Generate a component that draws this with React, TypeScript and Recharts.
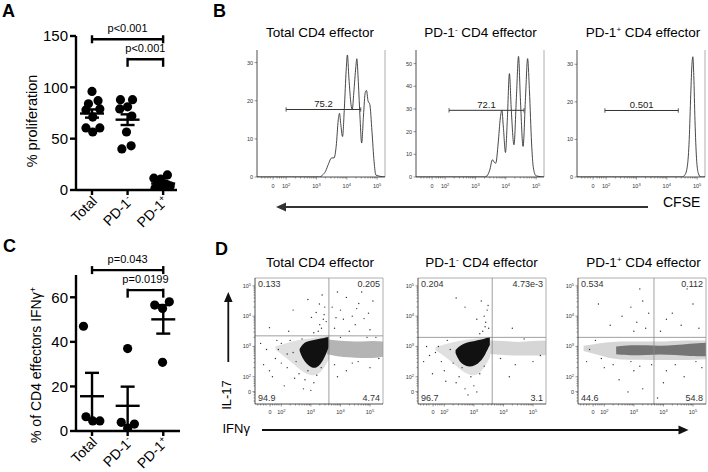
import React from 'react';
import {
  ComposedChart, ScatterChart, Scatter, Line, Area, XAxis, YAxis,
  ErrorBar, ReferenceLine, ReferenceArea, Label,
} from 'recharts';

const FONT = '"Liberation Sans", Arial, Helvetica, sans-serif';

// ---------------- Panel A: % proliferation ----------------
const groupNames = ['Total', 'PD-1', 'PD-1'];
const groupSups = ['', '-', '+'];

const prolifTotal = [96, 87, 84, 79, 78, 71, 60.5, 60.5, 56.5];
const prolifTotalJitter = [0, 0.17, -0.1, 0.22, -0.17, 0.02, -0.17, 0.22, 0.02];
const prolifPdNeg = [88, 88, 79, 81, 72, 56.5, 43, 40];
const prolifPdNegJitter = [-0.2, 0.14, -0.22, 0, 0.12, -0.03, 0.1, -0.16];
const prolifPdPos = [11.5, 14.7, 10.5, 5, 6, 4, 2, 1.5, 1];
const prolifPdPosJitter = [-0.26, 0.12, -0.07, -0.17, 0.06, 0.2, -0.06, -0.23, 0.14];
const prolifMean = [74.5, 68.5, 6.3];
const prolifSem = [4, 5.2, 1.6];
const prolifTicks = [0, 50, 100, 150];
const prolifBracketLevels = [146.8, 127.3];
const prolifPValues = ['p<0.001', 'p<0.001'];
const bracketPairs = [[1, 3], [2, 3]];

// ---------------- Panel C: % IFNg+ ----------------
const ifnTotal = [47, 6.4, 4.5, 4.5];
const ifnTotalJitter = [-0.24, -0.17, 0.02, 0.22];
const ifnPdNeg = [37, 3.9, 1.2, 3.1];
const ifnPdNegJitter = [0, -0.18, 0, 0.19];
const ifnPdPos = [56.5, 55, 58, 30.8];
const ifnPdPosJitter = [-0.24, -0.02, 0.17, -0.02];
const ifnMean = [15.6, 11.3, 50.1];
const ifnSem = [10.5, 8.6, 6.4];
const ifnTicks = [0, 20, 40, 60];
const ifnBracketLevels = [72.2, 63.2];
const ifnPValues = ['p=0.043', 'p=0.0199'];

// ---------------- Panel B: CFSE histograms (x in log-display units) ----------------
const cfseTotalX = [1.04, 3.1, 3.2, 3.3, 3.4, 3.5, 3.58, 3.65, 3.72, 3.76, 3.8, 3.86, 3.92, 3.98, 4.02, 4.07, 4.14, 4.18, 4.23, 4.3, 4.33, 4.38, 4.44, 4.49, 4.55, 4.61, 4.65, 4.7, 4.76, 4.83, 4.9, 4.96, 5.26];
const cfseTotalCount = [0, 0, 0.5, 1.5, 3.5, 5, 5, 8, 15, 16.7, 14, 10.6, 18, 28, 32, 26, 19, 17.6, 22, 29, 31, 25, 15, 8.9, 16, 22.2, 22.7, 20, 19, 12, 4, 0.5, 0];
const cfseNegX = [1.04, 3.3, 3.38, 3.47, 3.56, 3.62, 3.67, 3.75, 3.82, 3.87, 3.92, 3.99, 4.05, 4.12, 4.18, 4.27, 4.35, 4.42, 4.48, 4.57, 4.65, 4.72, 4.78, 4.85, 4.91, 5.0, 5.26];
const cfseNegCount = [0, 0, 0.5, 3, 7.6, 6.5, 6.1, 15, 26, 29.5, 22, 10.8, 25, 45.6, 30, 14.2, 35, 53.2, 35, 13.5, 35, 52.2, 38, 15, 4, 0.5, 0];
const cfsePosX = [1.04, 4.5, 4.6, 4.68, 4.74, 4.79, 4.83, 4.86, 4.89, 4.93, 4.98, 5.04, 5.12, 5.26];
const cfsePosCount = [0, 0, 0.6, 3, 10, 22, 30, 32, 27, 15, 5, 1, 0, 0];
const cfseGates = [[2.0, 4.46], [2.13, 4.6], [1.96, 4.38]];
const cfseGateLevels = [17.7, 29.4, 17.7];
const cfseGateLabels = ['75.2', '72.1', '0.501'];
const cfseYMax = [33.3, 56, 33.8];
const cfseYTicks = [[0, 10, 20, 30], [0, 10, 20, 30, 40, 50], [0, 10, 20, 30]];
const panelTitles = ['Total CD4 effector', 'PD-1', 'PD-1'];

// log-axis tick labels
const cfseMajor = [1.57, 2, 3, 4, 5];
const dotXMajor = [1.62, 2, 3, 4, 5];
const dotYMajor = [1.51, 2, 3, 4, 5];
const majorBase = ['0', '10', '10', '10', '10'];
const majorExp = ['', '2', '3', '4', '5'];
const linearMinor = [1.2, 1.3, 1.4, 1.48, 1.7, 1.78, 1.85, 1.92];
const decadeMinor = [2, 3, 4].flatMap((k) => [2, 3, 4, 5, 6, 7, 8, 9].map((m) => k + Math.log10(m)));

// ---------------- Panel D: IL-17 vs IFNg dot plots ----------------
const quadLabels = [
  ['0.133', '0.205', '94.9', '4.74'],
  ['0.204', '4.73e-3', '96.7', '3.1'],
  ['0.534', '0.112', '44.6', '54.8'],
];
const quadX = [3.61, 3.62, 3.68];
const quadY = [3.35, 3.3, 3.3];

// dense populations as ranges [low, high] at x
const blob1X = [2.62, 2.72, 2.86, 3.02, 3.18, 3.34, 3.48, 3.6];
const blob1Lo = [2.85, 2.6, 2.42, 2.3, 2.28, 2.42, 2.66, 2.98];
const blob1Hi = [2.92, 3.08, 3.16, 3.2, 3.23, 3.26, 3.29, 3.32];
const halo1X = [1.8, 2.2, 2.6, 3.0, 3.35, 3.62];
const halo1Lo = [2.9, 2.6, 2.25, 2.0, 2.1, 2.6];
const halo1Hi = [3.0, 3.12, 3.22, 3.27, 3.31, 3.35];
const band1X = [3.55, 3.9, 4.3, 4.7, 5.1, 5.44];
const band1Lo = [2.74, 2.68, 2.64, 2.62, 2.62, 2.66];
const band1Hi = [3.24, 3.2, 3.17, 3.16, 3.18, 3.16];

const blob2X = [2.38, 2.5, 2.66, 2.84, 3.03, 3.22, 3.38, 3.54];
const blob2Lo = [2.78, 2.52, 2.38, 2.32, 2.36, 2.5, 2.72, 3.05];
const blob2Hi = [2.88, 3.0, 3.1, 3.15, 3.18, 3.22, 3.26, 3.31];
const halo2X = [1.7, 2.1, 2.5, 2.9, 3.25, 3.55];
const halo2Lo = [2.88, 2.62, 2.25, 2.0, 2.1, 2.65];
const halo2Hi = [2.98, 3.1, 3.18, 3.24, 3.28, 3.32];
const band2X = [3.55, 4.0, 4.5, 5.0, 5.44];
const band2Lo = [2.75, 2.72, 2.7, 2.7, 2.72];
const band2Hi = [3.2, 3.18, 3.15, 3.18, 3.2];

const band3X = [1.3, 1.8, 2.3, 2.8, 3.3, 3.8, 4.3, 4.8, 5.44];
const band3Lo = [2.85, 2.72, 2.6, 2.56, 2.56, 2.55, 2.55, 2.55, 2.58];
const band3Hi = [3.02, 3.1, 3.15, 3.16, 3.16, 3.16, 3.18, 3.2, 3.2];
const core3X = [2.4, 2.9, 3.4, 3.9, 4.4, 4.9, 5.44];
const core3Lo = [2.74, 2.7, 2.72, 2.74, 2.72, 2.68, 2.68];
const core3Hi = [3.0, 3.05, 3.04, 3.02, 3.04, 3.1, 3.12];

// sparse events [x, y]
const events1 = [
  [3.25, 3.5], [3.3, 3.72], [3.42, 3.9], [3.18, 4.12], [3.47, 4.3], [3.36, 3.6], [3.1, 3.45], [3.52, 3.82], [2.4, 4.2], [2.9, 4.55], [3.38, 4.7], [3.02, 3.96], [1.6, 3.62], [2.25, 3.5], [3.45, 4.05], [3.29, 4.4],
  [3.8, 3.6], [4.0, 4.2], [4.2, 4.62], [4.4, 4.0], [4.62, 4.42], [4.5, 3.72], [3.9, 4.8], [4.8, 3.92], [5.1, 4.5], [4.3, 3.5], [3.72, 4.3], [5.0, 3.55], [4.1, 3.9], [4.72, 4.8], [4.55, 4.25], [4.95, 4.1], [3.85, 3.95],
  [1.5, 2.9], [1.8, 2.6], [2.0, 3.1], [2.2, 2.3], [2.4, 2.8], [1.7, 2.0], [2.6, 2.1], [2.1, 1.7], [2.8, 1.9], [1.4, 2.4], [2.3, 3.2], [1.9, 2.9], [2.5, 2.5], [3.1, 1.8], [2.9, 2.2], [1.3, 3.1], [2.7, 3.25], [3.2, 2.05], [1.6, 2.2], [2.0, 2.45], [2.45, 1.95], [3.35, 2.3], [2.2, 2.75], [1.85, 3.2], [2.75, 1.6], [3.0, 1.55],
  [3.8, 2.4], [4.2, 2.2], [4.6, 2.5], [5.0, 2.3], [4.0, 3.3], [4.9, 3.3], [5.3, 2.6], [3.9, 2.0], [4.4, 2.45], [5.2, 3.3],
];
const events2 = [
  [3.3, 3.5], [3.4, 3.8], [3.45, 4.2], [3.25, 4.5], [3.5, 3.6], [3.1, 3.9], [2.4, 4.6], [3.35, 4.0], [3.2, 3.42], [3.48, 4.35], [2.7, 4.3], [3.38, 3.65],
  [4.3, 3.6],
  [1.5, 2.7], [1.8, 3.0], [2.0, 2.2], [2.2, 2.9], [1.6, 2.1], [2.4, 1.8], [2.7, 1.6], [2.9, 2.0], [1.3, 2.5], [2.1, 3.2], [3.0, 1.7], [3.2, 2.1], [2.6, 2.3], [1.9, 2.5], [2.5, 2.0], [1.4, 3.0], [2.8, 1.4], [3.1, 1.5], [1.7, 2.8], [2.3, 2.45], [3.35, 2.35], [2.05, 1.85],
  [3.9, 2.6], [4.4, 2.4], [5.0, 2.5], [4.2, 2.0], [4.7, 3.25], [5.25, 2.7],
];
const events3 = [
  [2.9, 4.3], [3.1, 3.8], [3.3, 4.5], [3.4, 3.6], [2.6, 4.0], [3.5, 4.1], [2.2, 3.7], [3.2, 4.9], [1.8, 4.4], [3.0, 3.5],
  [4.3, 4.1], [4.6, 3.7], [5.0, 4.4], [3.9, 3.5], [4.8, 4.9], [4.1, 3.9], [5.2, 3.6],
  [2.0, 2.3], [2.5, 1.9], [3.0, 2.2], [3.3, 1.6], [3.6, 2.4], [4.1, 2.2], [4.7, 2.0], [5.1, 2.5], [1.5, 2.9], [1.9, 2.6], [3.8, 1.3], [2.8, 1.5], [1.4, 2.5], [2.3, 2.4], [3.2, 2.35], [4.4, 2.4], [5.3, 2.3], [1.7, 3.2], [2.9, 2.5], [4.0, 1.8],
];

// ---------------- helpers ----------------
const range = (xs: number[], lo: number[], hi: number[]) => xs.map((x, i) => ({ x, r: [lo[i], hi[i]] }));

const DotShape = (p: any) => <circle cx={p.cx} cy={p.cy} r={4.6} fill="#000" />;
const MeanShape = (p: any) => (
  <line x1={p.cx - 12} x2={p.cx + 12} y1={p.cy} y2={p.cy} stroke="#000" strokeWidth={2.4} />
);
const EventShape = (p: any) => <circle cx={p.cx} cy={p.cy} r={0.7} fill="#333" />;

const GroupTick = (p: any) => {
  const i = Math.round(p.payload.value) - 1;
  const ax = p.x + 6;
  const ay = p.y + 7;
  return (
    <text x={ax} y={ay} transform={`rotate(-45 ${ax} ${ay})`} textAnchor="end" fontSize={14} fill="#000">
      {groupNames[i]}
      {groupSups[i] ? <tspan dy={-5} fontSize={9}>{groupSups[i]}</tspan> : null}
    </text>
  );
};

const makeLogTickX = (majors: number[], labelDy: number) => (p: any) => {
  const idx = majors.indexOf(p.payload.value);
  const major = idx >= 0;
  return (
    <g>
      <line x1={p.x} x2={p.x} y1={p.y} y2={p.y + (major ? 2.5 : 1.5)} stroke="#333" strokeWidth={0.5} />
      {major ? (
        <text x={p.x} y={p.y + labelDy} textAnchor="middle" fontSize={5.5} fill="#333">
          {majorBase[idx]}
          {majorExp[idx] ? <tspan dy={-2} fontSize={4}>{majorExp[idx]}</tspan> : null}
        </text>
      ) : null}
    </g>
  );
};

const makeLogTickY = (majors: number[]) => (p: any) => {
  const idx = majors.indexOf(p.payload.value);
  const major = idx >= 0;
  return (
    <g>
      <line x1={p.x - (major ? 2.5 : 1.5)} x2={p.x} y1={p.y} y2={p.y} stroke="#333" strokeWidth={0.5} />
      {major ? (
        <text x={p.x - 4} y={p.y + 2} textAnchor="end" fontSize={5.5} fill="#333">
          {majorBase[idx]}
          {majorExp[idx] ? <tspan dy={-2} fontSize={4}>{majorExp[idx]}</tspan> : null}
        </text>
      ) : null}
    </g>
  );
};

const LinTickY = (p: any) => (
  <g>
    <line x1={p.x - 2.5} x2={p.x} y1={p.y} y2={p.y} stroke="#333" strokeWidth={0.5} />
    <text x={p.x - 4} y={p.y + 2} textAnchor="end" fontSize={5.5} fill="#333">{p.payload.value}</text>
  </g>
);

// ---------------- A / C dot plots ----------------
function DotPlot(props: any) {
  const { top, height, plotTop, plotBottom, plotRight, xMax, yMax, yTicks, groups, mean, sem, levels, pvals } = props;
  const plotLeft = 76;
  const yAxisW = 34;
  const ppu = (plotBottom - plotTop) / yMax;
  const pts = groups.flatMap((g: any, gi: number) => g.vals.map((v: number, i: number) => ({ x: gi + 1 + g.jit[i], y: v })));
  const means = mean.map((m: number, i: number) => ({ x: i + 1, y: m, e: sem[i] }));
  const axisStyle = { stroke: '#000', strokeWidth: 2.4 };
  return (
    <div style={{ position: 'absolute', left: 0, top }}>
      <ScatterChart width={200} height={height} margin={{ top: plotTop - top, right: 200 - plotRight, bottom: 0, left: plotLeft - yAxisW }}>
        <XAxis type="number" dataKey="x" domain={[0.55, xMax]} ticks={[1, 2, 3]} interval={0} allowDataOverflow
          height={top + height - plotBottom} axisLine={axisStyle} tickLine={axisStyle} tickSize={5} tickMargin={0} tick={GroupTick} />
        <YAxis type="number" dataKey="y" domain={[0, yMax]} ticks={yTicks} interval={0} allowDataOverflow width={yAxisW}
          axisLine={axisStyle} tickLine={axisStyle} tickSize={6} tickMargin={2} tick={{ fontSize: 15, fill: '#000' }} />
        <Scatter data={pts} shape={DotShape} isAnimationActive={false} />
        <Scatter data={means} shape={MeanShape} isAnimationActive={false}>
          <ErrorBar dataKey="e" direction="y" width={7} strokeWidth={2.4} stroke="#000" />
        </Scatter>
        {bracketPairs.map(([a, b], i) => {
          const lvl = levels[i];
          const up = (i === 0 ? 4 : 1.5) / ppu;
          const down = (i === 0 ? 4 : 7.5) / ppu;
          return (
            <React.Fragment key={'br' + i}>
              <ReferenceLine segment={[{ x: a, y: lvl }, { x: b, y: lvl }]} stroke="#000" strokeWidth={2.4} ifOverflow="visible"
                label={<Label value={pvals[i]} position="top" offset={7} fontSize={11} fill="#000" />} />
              <ReferenceLine segment={[{ x: a, y: lvl + up }, { x: a, y: lvl - down }]} stroke="#000" strokeWidth={2.4} ifOverflow="visible" />
              <ReferenceLine segment={[{ x: b, y: lvl + up }, { x: b, y: lvl - down }]} stroke="#000" strokeWidth={2.4} ifOverflow="visible" />
            </React.Fragment>
          );
        })}
      </ScatterChart>
    </div>
  );
}

// ---------------- B histograms ----------------
const cfseDomain = [1.04, 5.26];
const cfseTicks = [...linearMinor, ...decadeMinor, ...cfseMajor].sort((a, b) => a - b);
const cfseTickX = makeLogTickX(cfseMajor, 11);

function HistPanel(props: any) {
  const { plotLeft, xs, cs, yMax, yTicks, gate, gateLevel, gateLabel } = props;
  const plotTop = 50, plotH = 127, plotW = 128, yAxisW = 18, xAxisH = 14;
  const data = xs.map((x: number, i: number) => ({ x, c: cs[i] }));
  const cap = (2.2 * yMax) / plotH;
  const ax = { stroke: '#222', strokeWidth: 0.8 };
  return (
    <div style={{ position: 'absolute', left: plotLeft - yAxisW - 2, top: plotTop - 10 }}>
      <ComposedChart width={plotW + yAxisW + 6} height={10 + plotH + xAxisH} margin={{ top: 10, right: 4, bottom: 0, left: 2 }}>
        <XAxis type="number" dataKey="x" domain={cfseDomain} ticks={cfseTicks} interval={0} allowDataOverflow height={xAxisH}
          axisLine={ax} tickLine={false} tickSize={0} tickMargin={0} tick={cfseTickX} />
        <YAxis type="number" domain={[0, yMax]} ticks={yTicks} interval={0} allowDataOverflow width={yAxisW}
          axisLine={ax} tickLine={false} tickSize={0} tickMargin={0} tick={LinTickY} />
        <ReferenceLine x={cfseDomain[1]} stroke="#999" strokeWidth={0.8} />
        <Line data={data} dataKey="c" type="monotone" dot={false} stroke="#333" strokeWidth={0.9} isAnimationActive={false} />
        <ReferenceLine segment={[{ x: gate[0], y: gateLevel }, { x: gate[1], y: gateLevel }]} stroke="#333" strokeWidth={1}
          label={<Label value={gateLabel} position="top" offset={2.5} fontSize={9.5} fill="#222" />} />
        <ReferenceLine segment={[{ x: gate[0], y: gateLevel - cap }, { x: gate[0], y: gateLevel + cap }]} stroke="#333" strokeWidth={0.8} />
        <ReferenceLine segment={[{ x: gate[1], y: gateLevel - cap }, { x: gate[1], y: gateLevel + cap }]} stroke="#333" strokeWidth={0.8} />
      </ComposedChart>
    </div>
  );
}

// ---------------- D dot plots ----------------
const dotXDomain = [1.11, 5.44];
const dotYDomain = [1.1, 5.26];
const dotXTicks = [...linearMinor.filter((v) => v > 1.11), ...decadeMinor, ...dotXMajor].sort((a, b) => a - b);
const dotYTicks = [...linearMinor, ...decadeMinor, ...dotYMajor].sort((a, b) => a - b);
const dotTickX = makeLogTickX(dotXMajor, 10);
const dotTickY = makeLogTickY(dotYMajor);

function FlowPanel(props: any) {
  const { plotLeft, areas, events, labels, qx, qy } = props;
  const plotTop = 278, plotH = 126, plotW = 128, yAxisW = 18, xAxisH = 14;
  const pts = events.map((e: number[]) => ({ x: e[0], y: e[1] }));
  const ax = { stroke: '#222', strokeWidth: 0.8 };
  const [x0, x1] = dotXDomain;
  const [y0, y1] = dotYDomain;
  const qStyle = { fontSize: 9, fill: '#333' };
  return (
    <div style={{ position: 'absolute', left: plotLeft - yAxisW - 2, top: plotTop - 10 }}>
      <ComposedChart width={plotW + yAxisW + 4} height={10 + plotH + xAxisH} margin={{ top: 10, right: 2, bottom: 0, left: 2 }}>
        <XAxis type="number" dataKey="x" domain={dotXDomain} ticks={dotXTicks} interval={0} allowDataOverflow height={xAxisH}
          axisLine={ax} tickLine={false} tickSize={0} tickMargin={0} tick={dotTickX} />
        <YAxis type="number" domain={dotYDomain} ticks={dotYTicks} interval={0} allowDataOverflow width={yAxisW}
          axisLine={ax} tickLine={false} tickSize={0} tickMargin={0} tick={dotTickY} />
        {areas.map((a: any, i: number) => (
          <Area key={'a' + i} data={a.data} dataKey="r" type={a.curve} stroke="none" fill={a.fill} fillOpacity={a.opacity} isAnimationActive={false} />
        ))}
        <Scatter data={pts} dataKey="y" shape={EventShape} isAnimationActive={false} />
        <ReferenceLine x={x1} stroke="#999" strokeWidth={0.8} />
        <ReferenceLine y={y1} stroke="#999" strokeWidth={0.8} />
        <ReferenceLine x={qx} stroke="#888" strokeWidth={0.8} />
        <ReferenceLine y={qy} stroke="#888" strokeWidth={0.8} />
        <ReferenceArea x1={x0} x2={qx} y1={qy} y2={y1} fill="none" fillOpacity={0} label={{ value: labels[0], position: 'insideTopLeft', offset: 3, ...qStyle }} />
        <ReferenceArea x1={qx} x2={x1} y1={qy} y2={y1} fill="none" fillOpacity={0} label={{ value: labels[1], position: 'insideTopRight', offset: 3, ...qStyle }} />
        <ReferenceArea x1={x0} x2={qx} y1={y0} y2={qy} fill="none" fillOpacity={0} label={{ value: labels[2], position: 'insideBottomLeft', offset: 3, ...qStyle }} />
        <ReferenceArea x1={qx} x2={x1} y1={y0} y2={qy} fill="none" fillOpacity={0} label={{ value: labels[3], position: 'insideBottomRight', offset: 3, ...qStyle }} />
      </ComposedChart>
    </div>
  );
}

// ---------------- free text & arrows ----------------
function Overlay() {
  const sup = (s: string) => <tspan dy={-5} fontSize={8}>{s}</tspan>;
  return (
    <svg width={708} height={472} style={{ position: 'absolute', left: 0, top: 0, pointerEvents: 'none' }} fontFamily={FONT}>
      <text x={2} y={17} fontSize={18} fontWeight="bold">A</text>
      <text x={213} y={17} fontSize={18} fontWeight="bold">B</text>
      <text x={3} y={252} fontSize={18} fontWeight="bold">C</text>
      <text x={215} y={255} fontSize={18} fontWeight="bold">D</text>

      <text x={37} y={121} transform="rotate(-90 37 121)" textAnchor="middle" fontSize={14.5}>% proliferation</text>
      <text x={41} y={365} transform="rotate(-90 41 365)" textAnchor="middle" fontSize={14}>
        % of CD4 effectors IFNγ<tspan dy={-5} fontSize={9}>+</tspan>
      </text>

      <text x={320} y={36.5} textAnchor="middle" fontSize={13.5}>{panelTitles[0]}</text>
      <text x={480.5} y={36.5} textAnchor="middle" fontSize={13.5}>{panelTitles[1]}{sup('-')}<tspan dy={5}> CD4 effector</tspan></text>
      <text x={643} y={36.5} textAnchor="middle" fontSize={13.5}>{panelTitles[2]}{sup('+')}<tspan dy={5}> CD4 effector</tspan></text>

      <text x={320} y={266.5} textAnchor="middle" fontSize={13.5}>{panelTitles[0]}</text>
      <text x={481.5} y={266.5} textAnchor="middle" fontSize={13.5}>{panelTitles[1]}{sup('-')}<tspan dy={5}> CD4 effector</tspan></text>
      <text x={643.5} y={266.5} textAnchor="middle" fontSize={13.5}>{panelTitles[2]}{sup('+')}<tspan dy={5}> CD4 effector</tspan></text>

      <line x1={648} x2={284} y1={207} y2={207} stroke="#333" strokeWidth={1.8} />
      <polygon points="276,207 286,202.5 286,211.5" fill="#333" />
      <text x={663} y={206.5} fontSize={14}>CFSE</text>

      <text x={231} y={395} transform="rotate(-90 231 395)" textAnchor="middle" fontSize={13}>IL-17</text>
      <line x1={228.3} x2={228.3} y1={362} y2={300} stroke="#111" strokeWidth={1.8} />
      <polygon points="228.3,292 224,302 232.6,302" fill="#111" />

      <text x={222.5} y={432.5} fontSize={13}>IFNγ</text>
      <line x1={262} x2={680} y1={430} y2={430} stroke="#111" strokeWidth={1.8} />
      <polygon points="688.5,430 678.5,425.5 678.5,434.5" fill="#111" />
    </svg>
  );
}

export default function App() {
  const prolifGroups = [
    { vals: prolifTotal, jit: prolifTotalJitter },
    { vals: prolifPdNeg, jit: prolifPdNegJitter },
    { vals: prolifPdPos, jit: prolifPdPosJitter },
  ];
  const ifnGroups = [
    { vals: ifnTotal, jit: ifnTotalJitter },
    { vals: ifnPdNeg, jit: ifnPdNegJitter },
    { vals: ifnPdPos, jit: ifnPdPosJitter },
  ];
  const histX = [cfseTotalX, cfseNegX, cfsePosX];
  const histC = [cfseTotalCount, cfseNegCount, cfsePosCount];
  const histLeft = [257, 416, 577];
  const flowLeft = [255, 418, 578];
  const flowAreas = [
    [
      { data: range(halo1X, halo1Lo, halo1Hi), fill: '#999', opacity: 0.3, curve: 'basis' },
      { data: range(band1X, band1Lo, band1Hi), fill: '#777', opacity: 0.55, curve: 'monotone' },
      { data: range(blob1X, blob1Lo, blob1Hi), fill: '#111', opacity: 1, curve: 'basis' },
    ],
    [
      { data: range(halo2X, halo2Lo, halo2Hi), fill: '#999', opacity: 0.3, curve: 'basis' },
      { data: range(band2X, band2Lo, band2Hi), fill: '#999', opacity: 0.4, curve: 'monotone' },
      { data: range(blob2X, blob2Lo, blob2Hi), fill: '#111', opacity: 1, curve: 'basis' },
    ],
    [
      { data: range(band3X, band3Lo, band3Hi), fill: '#999', opacity: 0.4, curve: 'monotone' },
      { data: range(core3X, core3Lo, core3Hi), fill: '#333', opacity: 0.6, curve: 'basis' },
    ],
  ];
  const flowEvents = [events1, events2, events3];
  return (
    <div style={{ position: 'absolute', left: 0, top: 0, width: 708, height: 472, background: '#fff', fontFamily: FONT, overflow: 'hidden' }}>
      <DotPlot top={0} height={240} plotTop={36} plotBottom={190} plotRight={177} xMax={3.39} yMax={150} yTicks={prolifTicks}
        groups={prolifGroups} mean={prolifMean} sem={prolifSem} levels={prolifBracketLevels} pvals={prolifPValues} />
      <DotPlot top={240} height={232} plotTop={275} plotBottom={431} plotRight={180} xMax={3.47} yMax={70} yTicks={ifnTicks}
        groups={ifnGroups} mean={ifnMean} sem={ifnSem} levels={ifnBracketLevels} pvals={ifnPValues} />
      {[0, 1, 2].map((i) => (
        <HistPanel key={'h' + i} plotLeft={histLeft[i]} xs={histX[i]} cs={histC[i]} yMax={cfseYMax[i]} yTicks={cfseYTicks[i]}
          gate={cfseGates[i]} gateLevel={cfseGateLevels[i]} gateLabel={cfseGateLabels[i]} />
      ))}
      {[0, 1, 2].map((i) => (
        <FlowPanel key={'f' + i} plotLeft={flowLeft[i]} areas={flowAreas[i]} events={flowEvents[i]} labels={quadLabels[i]}
          qx={quadX[i]} qy={quadY[i]} />
      ))}
      <Overlay />
    </div>
  );
}
